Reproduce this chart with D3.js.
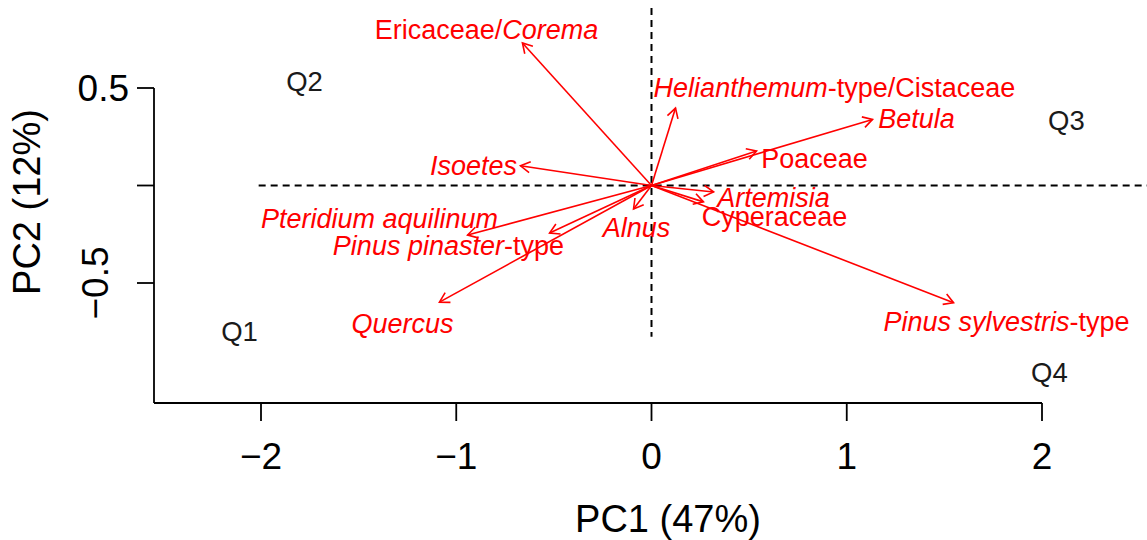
<!DOCTYPE html>
<html><head><meta charset="utf-8">
<script src="https://cdn.jsdelivr.net/npm/d3@7"></script>
<style>body{margin:0;background:#fff}svg{display:block;font-family:"Liberation Sans",Arial,sans-serif}</style>
</head><body><svg id="c" width="1147" height="540"></svg>
<script>
// Taxa (italic parts marked with *...*)
const taxa = ["Ericaceae/*Corema*", "*Helianthemum*-type/Cistaceae", "*Betula*", "Poaceae", "*Isoetes*",
  "*Artemisia*", "Cyperaceae", "*Pteridium aquilinum*", "*Alnus*", "*Pinus pinaster*-type", "*Quercus*", "*Pinus sylvestris*-type"];
// Loadings (arrow tips)
const pc1 = [-0.661, 0.123, 1.132, 0.538, -0.671, 0.318, 0.266, -0.942, -0.092, -0.522, -1.086, 1.547];
const pc2 = [0.731, 0.397, 0.339, 0.177, 0.101, -0.033, -0.084, -0.254, -0.120, -0.244, -0.598, -0.601];
// Label positions
const labX = [-0.845, 0.937, 1.357, 0.835, -0.912, 0.625, 0.630, -1.393, -0.077, -1.040, -1.275, 1.818];
const labY = [0.803, 0.505, 0.346, 0.141, 0.105, -0.059, -0.156, -0.167, -0.213, -0.305, -0.705, -0.695];
// Quadrant labels
const quads = ["Q1", "Q2", "Q3", "Q4"];
const quadX = [-2.110, -1.777, 2.125, 2.038];
const quadY = [-0.746, 0.536, 0.336, -0.956];
// Axes
const xTicks = [-2, -1, 0, 1, 2];
const yTicks = [-0.5, 0, 0.5];
const xTitle = "PC1 (47%)";
const yTitle = "PC2 (12%)";

const svg = d3.select("#c");
const x = d3.scaleLinear().domain([-2, 2]).range([261, 1042]);
const y = d3.scaleLinear().domain([-0.5, 0.5]).range([283, 88]);
const axisY0 = 403, axisX0 = 154;
const fmt = v => String(v).replace("-", "\u2212");

// Axis lines
svg.append("line").attr("x1", axisX0).attr("x2", axisX0).attr("y1", y(0.5)).attr("y2", axisY0)
  .attr("stroke", "#000").attr("stroke-width", 1.8);
svg.append("line").attr("x1", axisX0).attr("x2", x(2)).attr("y1", axisY0).attr("y2", axisY0)
  .attr("stroke", "#000").attr("stroke-width", 1.8);
// X ticks
xTicks.forEach(t => {
  svg.append("line").attr("x1", x(t)).attr("x2", x(t)).attr("y1", axisY0).attr("y2", axisY0 + 18)
    .attr("stroke", "#000").attr("stroke-width", 1.8);
  svg.append("text").attr("x", x(t)).attr("y", 469).attr("text-anchor", "middle")
    .attr("font-size", 37).attr("fill", "#000").text(fmt(t));
});
// Y ticks
yTicks.forEach(t => {
  svg.append("line").attr("x1", axisX0 - 17).attr("x2", axisX0).attr("y1", y(t)).attr("y2", y(t))
    .attr("stroke", "#000").attr("stroke-width", 1.8);
});
svg.append("text").attr("x", 129).attr("y", y(0.5) + 13).attr("text-anchor", "end")
  .attr("font-size", 37).text(fmt(0.5));
svg.append("text").attr("transform", `translate(108,${y(-0.5)}) rotate(-90)`).attr("text-anchor", "middle")
  .attr("font-size", 37).text(fmt(-0.5));
// Titles
svg.append("text").attr("x", 668).attr("y", 532).attr("text-anchor", "middle").attr("font-size", 38).text(xTitle);
svg.append("text").attr("transform", `translate(40,202) rotate(-90)`).attr("text-anchor", "middle")
  .attr("font-size", 38).text(yTitle);

// Dashed reference lines
svg.append("line").attr("x1", x(-2.012)).attr("x2", 1147).attr("y1", y(0)).attr("y2", y(0))
  .attr("stroke", "#000").attr("stroke-width", 2).attr("stroke-dasharray", "7,5");
svg.append("line").attr("x1", x(0)).attr("x2", x(0)).attr("y1", y(0.91)).attr("y2", y(-0.775))
  .attr("stroke", "#000").attr("stroke-width", 2).attr("stroke-dasharray", "7,5");

// Arrows
const red = "#ff0000";
const g = svg.append("g").attr("stroke", red).attr("stroke-width", 1.6).attr("fill", "none");
pc1.forEach((v, i) => {
  const x0 = x(0), y0 = y(0), x1 = x(v), y1 = y(pc2[i]);
  g.append("line").attr("x1", x0).attr("y1", y0).attr("x2", x1).attr("y2", y1);
  const ang = Math.atan2(y1 - y0, x1 - x0), L = 11, a = Math.PI / 6;
  const p = [[x1 - L * Math.cos(ang - a), y1 - L * Math.sin(ang - a)], [x1, y1],
             [x1 - L * Math.cos(ang + a), y1 - L * Math.sin(ang + a)]];
  g.append("path").attr("d", d3.line()(p));
});

// Labels
taxa.forEach((lab, i) => {
  const t = svg.append("text").attr("x", x(labX[i])).attr("y", y(labY[i])).attr("dy", "0.36em")
    .attr("text-anchor", "middle").attr("font-size", 27).attr("fill", red);
  lab.split("*").forEach((s, k) => {
    if (s.length) t.append("tspan").attr("font-style", k % 2 ? "italic" : "normal").text(s);
  });
});
quads.forEach((q, i) => {
  svg.append("text").attr("x", x(quadX[i])).attr("y", y(quadY[i])).attr("dy", "0.36em")
    .attr("text-anchor", "middle").attr("font-size", 27.5).attr("fill", "#1a1a1a").text(q);
});
</script></body></html>
